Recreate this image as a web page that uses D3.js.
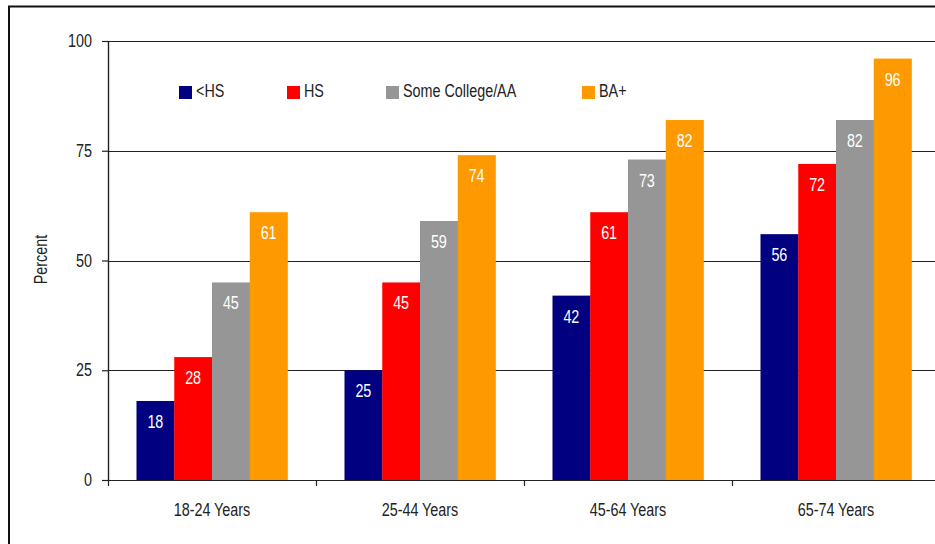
<!DOCTYPE html>
<html>
<head>
<meta charset="utf-8">
<script src="https://cdn.jsdelivr.net/npm/d3@7"></script>
<style>
  body { margin: 0; background: #fff; }
  svg text { font-family: "Liberation Sans", Arial, sans-serif; }
</style>
</head>
<body>
<div id="chart"></div>
<script>
const ageGroups = ["18-24 Years", "25-44 Years", "45-64 Years", "65-74 Years"]
const education = ["<HS", "HS", "Some College/AA", "BA+"]
const colors = ["#000080", "#ff0000", "#969696", "#ff9900"]
const lessHS = [18, 25, 42, 56]
const highSchool = [28, 45, 61, 72]
const someCollege = [45, 59, 73, 82]
const baPlus = [61, 74, 82, 96]
const yTicks = [0, 25, 50, 75, 100]

const series = [lessHS, highSchool, someCollege, baPlus]

const W = 935, H = 544
const MARGIN = { LEFT: 108, RIGHT: -5, TOP: 41, BOTTOM: 64 }
const WIDTH = W - MARGIN.LEFT - MARGIN.RIGHT
const HEIGHT = H - MARGIN.TOP - MARGIN.BOTTOM
const FONT = "17.5px"

// no narrow font installed: squeeze text horizontally to look like Arial Narrow
function narrow(sel) {
  sel.each(function () {
    const w = this.getComputedTextLength()
    d3.select(this)
      .attr("textLength", w * 0.82)
      .attr("lengthAdjust", "spacingAndGlyphs")
  })
}

const svg = d3.select("#chart").append("svg")
  .attr("width", W)
  .attr("height", H)

// outer frame
svg.append("rect")
  .attr("x", 9).attr("y", 6.5)
  .attr("width", W + 10).attr("height", H + 10)
  .attr("fill", "none")
  .attr("stroke", "#111")
  .attr("stroke-width", 2)

const g = svg.append("g")
  .attr("transform", `translate(${MARGIN.LEFT}, ${MARGIN.TOP})`)

const x0 = d3.scaleBand()
  .domain(ageGroups)
  .range([0, WIDTH])
  .paddingInner(0.274)
  .paddingOuter(0.137)

const x1 = d3.scaleBand()
  .domain(education)
  .range([0, x0.bandwidth()])

const y = d3.scaleLinear()
  .domain([0, 100])
  .range([HEIGHT, 0])

// gridlines
g.selectAll(".grid")
  .data(yTicks)
  .enter().append("line")
  .attr("x1", 0)
  .attr("x2", WIDTH)
  .attr("y1", d => Math.round(y(d)) + 0.5)
  .attr("y2", d => Math.round(y(d)) + 0.5)
  .attr("stroke", "#222")
  .attr("stroke-width", 1.2)

// y axis
const yAxisCall = d3.axisLeft(y)
  .tickValues(yTicks)
  .tickSize(6)
  .tickPadding(10)
g.append("g")
  .attr("class", "y axis")
  .call(yAxisCall)
  .call(s => s.select(".domain").attr("stroke", "#222").attr("stroke-width", 1.4).attr("d", `M0.5,0V${HEIGHT}`))
  .call(s => s.selectAll(".tick line").attr("stroke", "#222").attr("stroke-width", 1.2))
  .call(s => s.selectAll(".tick text")
    .attr("font-size", FONT)
    .attr("fill", "#222")
    .style("font-family", "'Liberation Sans', Arial, sans-serif")
    .call(narrow))

// x axis: labels centered, ticks at category boundaries
const step = x0.step()
const boundaries = d3.range(ageGroups.length + 1).map(i => i * step)
g.selectAll(".xtick")
  .data(boundaries)
  .enter().append("line")
  .attr("x1", d => d + 0.5)
  .attr("x2", d => d + 0.5)
  .attr("y1", HEIGHT)
  .attr("y2", HEIGHT + 6)
  .attr("stroke", "#222")
  .attr("stroke-width", 1.2)

g.selectAll(".xlabel")
  .data(ageGroups)
  .enter().append("text")
  .attr("x", d => x0(d) + x0.bandwidth() / 2)
  .attr("y", HEIGHT + 36)
  .attr("text-anchor", "middle")
  .attr("font-size", FONT)
  .attr("fill", "#222")
  .text(d => d)
  .call(narrow)

// Y label
g.append("text")
  .attr("x", -(HEIGHT / 2) + 1)
  .attr("y", -61)
  .attr("font-size", FONT)
  .attr("fill", "#222")
  .attr("text-anchor", "middle")
  .attr("transform", "rotate(-90)")
  .text("Percent")
  .call(narrow)

// bars
const groups = g.selectAll(".group")
  .data(ageGroups)
  .enter().append("g")
  .attr("transform", d => `translate(${x0(d)}, 0)`)

groups.selectAll("rect")
  .data((d, i) => series.map((s, j) => ({ key: education[j], value: s[i], color: colors[j] })))
  .enter().append("rect")
  .attr("x", d => x1(d.key))
  .attr("y", d => y(d.value))
  .attr("width", x1.bandwidth() + 0.3)
  .attr("height", d => HEIGHT - y(d.value))
  .attr("fill", d => d.color)

groups.selectAll(".val")
  .data((d, i) => series.map((s, j) => ({ key: education[j], value: s[i] })))
  .enter().append("text")
  .attr("x", d => x1(d.key) + x1.bandwidth() / 2)
  .attr("y", d => y(d.value) + 27)
  .attr("text-anchor", "middle")
  .attr("font-size", FONT)
  .attr("fill", "#fff")
  .text(d => d.value)
  .call(narrow)

// legend
const legendX = [179, 287, 386, 582]
const legend = svg.selectAll(".legend")
  .data(education)
  .enter().append("g")
  .attr("transform", (d, i) => `translate(${legendX[i]}, 86)`)

legend.append("rect")
  .attr("width", 13)
  .attr("height", 13)
  .attr("fill", (d, i) => colors[i])

legend.append("text")
  .attr("x", 17)
  .attr("y", 11)
  .attr("font-size", FONT)
  .attr("fill", "#222")
  .text(d => d)
  .call(narrow)
</script>
</body>
</html>
